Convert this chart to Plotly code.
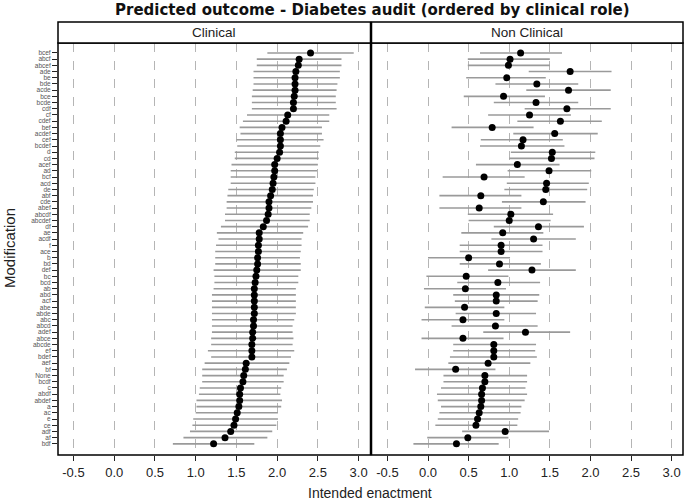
import plotly.graph_objects as go

# ---------------- data (rows listed top to bottom) ----------------
modifications = [
    "bcef", "abcf", "abcef", "ade", "be", "bde", "acde", "bce", "bcde", "cdf",
    "cf", "cdef", "bef", "acdef", "cef", "bcdef", "d", "cd", "acef", "ad",
    "bcf", "acd", "de", "abf", "cde", "abef", "abcdf", "abcdef", "df", "ae",
    "acdf", "f", "ace", "b", "bd", "def", "bc", "bcd", "ab", "abd",
    "acf", "abe", "abde", "abc", "abcd", "adef", "abce", "abcde", "ef", "bdef",
    "aef", "bf", "None", "bcdf", "c", "abdf", "abdef", "a", "ac", "e",
    "ce", "adf", "af", "bdf",
]

clinical_est = [
    2.41, 2.27, 2.26, 2.23, 2.22, 2.22, 2.22, 2.21, 2.20, 2.20,
    2.13, 2.11, 2.06, 2.04, 2.04, 2.04, 2.03, 2.00, 1.97, 1.97,
    1.96, 1.95, 1.94, 1.92, 1.90, 1.90, 1.89, 1.87, 1.83, 1.78,
    1.78, 1.77, 1.77, 1.76, 1.76, 1.75, 1.74, 1.73, 1.72, 1.72,
    1.72, 1.72, 1.72, 1.71, 1.71, 1.70, 1.70, 1.69, 1.69, 1.69,
    1.62, 1.61, 1.59, 1.58, 1.55, 1.54, 1.54, 1.53, 1.51, 1.49,
    1.47, 1.43, 1.36, 1.22,
]
clinical_lo = [
    1.88, 1.75, 1.75, 1.71, 1.71, 1.71, 1.70, 1.69, 1.69, 1.69,
    1.63, 1.58, 1.54, 1.55, 1.50, 1.51, 1.48, 1.48, 1.44, 1.43,
    1.43, 1.43, 1.40, 1.39, 1.38, 1.38, 1.36, 1.36, 1.31, 1.26,
    1.28, 1.25, 1.24, 1.24, 1.24, 1.22, 1.23, 1.23, 1.22, 1.20,
    1.20, 1.20, 1.20, 1.20, 1.20, 1.20, 1.19, 1.19, 1.15, 1.19,
    1.11, 1.08, 1.08, 1.08, 1.05, 1.04, 1.01, 1.01, 1.00, 0.97,
    0.96, 0.93, 0.85, 0.72,
]
clinical_hi = [
    2.94, 2.79, 2.79, 2.77, 2.77, 2.74, 2.73, 2.72, 2.72, 2.73,
    2.64, 2.64, 2.55, 2.55, 2.57, 2.53, 2.51, 2.51, 2.50, 2.49,
    2.47, 2.47, 2.45, 2.44, 2.44, 2.42, 2.40, 2.40, 2.38, 2.32,
    2.30, 2.30, 2.29, 2.28, 2.29, 2.29, 2.26, 2.26, 2.23, 2.23,
    2.23, 2.23, 2.23, 2.21, 2.19, 2.19, 2.20, 2.19, 2.21, 2.17,
    2.15, 2.12, 2.08, 2.08, 2.05, 2.04, 2.06, 2.05, 2.01, 2.01,
    1.99, 1.94, 1.88, 1.72,
]

nonclinical_est = [
    1.14, 1.01, 0.99, 1.75, 0.97, 1.34, 1.73, 0.93, 1.33, 1.71,
    1.25, 1.63, 0.79, 1.56, 1.17, 1.15, 1.53, 1.52, 1.10, 1.49,
    0.69, 1.46, 1.45, 0.65, 1.42, 0.63, 1.02, 1.00, 1.36, 0.92,
    1.30, 0.90, 0.90, 0.50, 0.88, 1.28, 0.47, 0.86, 0.46, 0.84,
    0.84, 0.45, 0.84, 0.43, 0.83, 1.20, 0.43, 0.81, 0.81, 0.81,
    0.74, 0.34, 0.70, 0.70, 0.67, 0.66, 0.66, 0.65, 0.63, 0.61,
    0.59, 0.95, 0.49, 0.35,
]
nonclinical_lo = [
    0.64, 0.49, 0.49, 1.24, 0.47, 0.83, 1.21, 0.44, 0.81, 1.19,
    0.74, 1.10, 0.29, 1.05, 0.65, 0.64, 1.02, 1.00, 0.59, 0.98,
    0.18, 0.97, 0.94, 0.14, 0.91, 0.14, 0.49, 0.50, 0.81, 0.41,
    0.78, 0.39, 0.39, 0.00, 0.39, 0.74, -0.02, 0.36, -0.05, 0.31,
    0.33, -0.04, 0.34, -0.08, 0.29, 0.68, -0.08, 0.31, 0.31, 0.27,
    0.25, -0.16, 0.19, 0.19, 0.16, 0.11, 0.12, 0.16, 0.14, 0.12,
    0.09, 0.42, -0.01, -0.18,
]
nonclinical_hi = [
    1.65, 1.50, 1.50, 2.26, 1.45, 1.85, 2.25, 1.44, 1.85, 2.25,
    1.76, 2.14, 1.30, 2.09, 1.66, 1.68, 2.06, 2.05, 1.62, 2.01,
    1.19, 1.98, 1.96, 1.15, 1.94, 1.15, 1.54, 1.51, 1.92, 1.42,
    1.82, 1.41, 1.41, 1.01, 1.39, 1.82, 0.99, 1.38, 0.96, 1.37,
    1.35, 0.94, 1.33, 0.94, 1.35, 1.75, 0.93, 1.33, 1.32, 1.34,
    1.26, 0.83, 1.22, 1.22, 1.20, 1.22, 1.19, 1.15, 1.14, 1.11,
    1.10, 1.49, 0.99, 0.87,
]

panel_titles = ["Clinical", "Non Clinical"]
x_ticks = [-0.5, 0.0, 0.5, 1.0, 1.5, 2.0, 2.5, 3.0]

# ---------------- figure ----------------
W, H = 685, 502
FONT = "Liberation Sans, Arial, sans-serif"
TITLE_FONT = "DejaVu Sans, Verdana, sans-serif"

def px_x(p):
    return p / W

def px_y(p):
    return 1 - p / H

fig = go.Figure()

panels = [
    (clinical_est, clinical_lo, clinical_hi, "x", "y"),
    (nonclinical_est, nonclinical_lo, nonclinical_hi, "x2", "y2"),
]
for est, lo, hi, xa, ya in panels:
    fig.add_trace(go.Scatter(
        x=est, y=modifications, xaxis=xa, yaxis=ya, mode="markers",
        marker=dict(color="black", size=7, line=dict(width=0)),
        error_x=dict(type="data", symmetric=False,
                     array=[h - e for h, e in zip(hi, est)],
                     arrayminus=[e - l for e, l in zip(est, lo)],
                     color="#9a9a9a", thickness=1.6, width=0),
        showlegend=False, hoverinfo="skip",
    ))

left_dom = [px_x(58), px_x(370)]
right_dom = [px_x(372), px_x(683)]
y_dom = [px_y(455), px_y(43)]
n = len(modifications)
y_range = [n - 1 + 1.8, -1.6]

xcommon = dict(
    range=[-0.69, 3.14], tickmode="array", tickvals=x_ticks,
    ticktext=["%.1f" % v for v in x_ticks],
    ticks="outside", ticklen=5, tickcolor="#222", tickwidth=1,
    showgrid=True, gridcolor="#b5b5b5", griddash="dash", gridwidth=1,
    zeroline=False, showline=False,
    tickfont=dict(family=FONT, size=13, color="#222"),
)

fig.update_layout(
    width=W, height=H,
    margin=dict(l=0, r=0, t=0, b=0),
    paper_bgcolor="white", plot_bgcolor="white",
    xaxis=dict(domain=left_dom, anchor="y", **xcommon),
    xaxis2=dict(domain=right_dom, anchor="y2", **xcommon),
    yaxis=dict(domain=y_dom, anchor="x", type="category",
               categoryorder="array", categoryarray=modifications,
               tickmode="array", tickvals=modifications, ticktext=modifications,
               range=y_range, showgrid=False, zeroline=False,
               ticks="outside", ticklen=5, tickcolor="#222", tickwidth=1,
               tickfont=dict(family=FONT, size=6.5, color="#555"),
               automargin=False),
    yaxis2=dict(domain=y_dom, anchor="x2", type="category",
                categoryorder="array", categoryarray=modifications,
                range=y_range, showgrid=False, zeroline=False,
                showticklabels=False, ticks=""),
)

shapes = []
for (x0, x1) in [(58, 370.5), (371.5, 683)]:
    shapes.append(dict(type="rect", xref="paper", yref="paper",
                       x0=px_x(x0), x1=px_x(x1), y0=px_y(455), y1=px_y(43),
                       line=dict(color="black", width=1.5), fillcolor="rgba(0,0,0,0)",
                       layer="above"))
    shapes.append(dict(type="rect", xref="paper", yref="paper",
                       x0=px_x(x0), x1=px_x(x1), y0=px_y(43), y1=px_y(22),
                       line=dict(color="black", width=1.5), fillcolor="white",
                       layer="above"))
fig.update_layout(shapes=shapes)

annotations = []
for title, (x0, x1) in zip(panel_titles, [(58, 370.5), (371.5, 683)]):
    annotations.append(dict(text=title, xref="paper", yref="paper",
                            x=px_x((x0 + x1) / 2), y=px_y(32.5),
                            xanchor="center", yanchor="middle", showarrow=False,
                            font=dict(family=FONT, size=13.5, color="#222")))
annotations.append(dict(text="<b>Predicted outcome - Diabetes audit (ordered by clinical role)</b>",
                        xref="paper", yref="paper", x=px_x(372.5), y=px_y(10),
                        xanchor="center", yanchor="middle", showarrow=False,
                        font=dict(family=TITLE_FONT, size=15, color="#111")))
annotations.append(dict(text="Intended enactment", xref="paper", yref="paper",
                        x=px_x(370), y=px_y(493), xanchor="center", yanchor="middle",
                        showarrow=False, font=dict(family=FONT, size=14, color="#222")))
annotations.append(dict(text="Modification", xref="paper", yref="paper",
                        x=px_x(9), y=px_y(248), xanchor="center", yanchor="middle",
                        textangle=-90, showarrow=False,
                        font=dict(family=FONT, size=15, color="#222")))
fig.update_layout(annotations=annotations)

fig.write_html("out.html", config={"displayModeBar": False},
               post_script="document.body.style.margin='0';document.body.style.padding='0';")
